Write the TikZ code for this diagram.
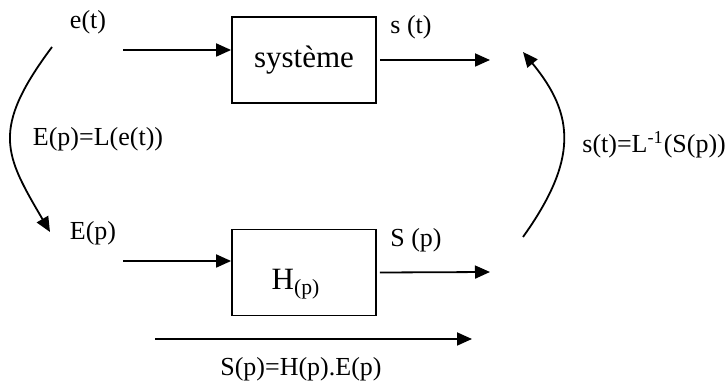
\documentclass[tikz,border=0pt]{standalone}
\usepackage{fontspec}
\setmainfont{Liberation Serif}
\usetikzlibrary{arrows.meta}

\begin{document}
\begin{tikzpicture}[x=0.5pt, y=-0.5pt,
    fleche/.style={-{Triangle[length=7.5pt,width=6.5pt]}, line width=0.9pt},
    bloc/.style={draw, line width=0.9pt, minimum width=72pt, minimum height=43pt, inner sep=0pt},
    lbl/.style={inner sep=0pt, font=\fontsize{13}{15}\selectfont}]
    \useasboundingbox (0,0) rectangle (725,385);

    % Blocks
    \node[bloc, font=\fontsize{15.5}{18}\selectfont] (sys) at (304,60) {système};
    \node[bloc] (hp) at (304,272.5) {};
    \node[inner sep=0pt, font=\fontsize{15.5}{18}\selectfont] (hlab) at (296,284) {H\textsubscript{(p)}};

    % Time domain and Laplace domain signals
    \coordinate (in1) at (123,50);
    \coordinate (out1) at (490,60);
    \draw[fleche] (in1) -- (in1 -| sys.west);
    \draw[fleche] ([xshift=1.5pt]sys.east) -- (out1);

    \coordinate (in2) at (123,261);
    \coordinate (out2) at (490,272);
    \draw[fleche] (in2) -- (in2 -| hp.west);
    \draw[fleche] ([xshift=1.5pt]hp.east) -- (out2);

    % Transforms
    \coordinate (et) at (52,47);
    \coordinate (Ep) at (50,232);
    \draw[fleche] (et) .. controls (-10,130) and (5,155) .. (Ep);
    \coordinate (Sp) at (523,237);
    \coordinate (st) at (523,52);
    \draw[fleche] (Sp) .. controls (578,160) and (575,115) .. (st);

    % Product
    \coordinate (p1) at (155,339);
    \coordinate (p2) at (472,339);
    \draw[fleche] (p1) -- (p2);

    % Labels
    \node[lbl] (etl) at (88,22) {e(t)};
    \node[lbl] (Lap) at (98,139) {E(p)=L(e(t))};
    \node[lbl] (Epl) at (93,233) {E(p)};
    \node[lbl] (stl) at (411,27) {s (t)};
    \node[lbl] (Spl) at (416,240) {S (p)};
    \node[lbl, anchor=west] (invl) at (582,145) {s(t)=L\textsuperscript{-1}(S(p))};
    \node[lbl] (prodl) at (301,369) {S(p)=H(p).E(p)};
\end{tikzpicture}
\end{document}
